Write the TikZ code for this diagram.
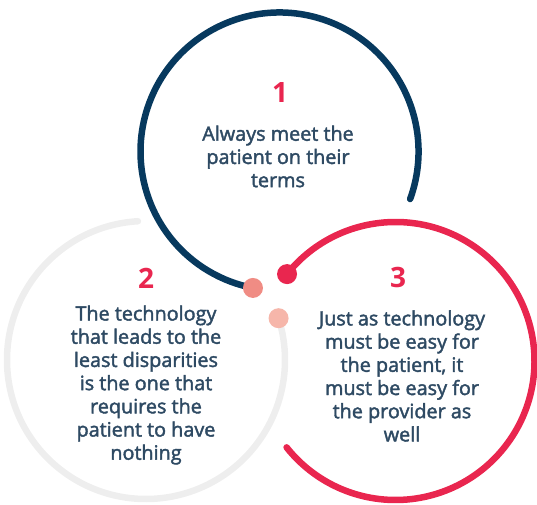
\documentclass[tikz,border=0pt]{standalone}
\usepackage{fontspec}
\setmainfont{Open Sans}
\newfontfamily\semibold{Open Sans}[FakeBold=2]
\usepackage{tikz}
\usetikzlibrary{positioning}
\definecolor{ringnavy}{RGB}{7,57,94}
\definecolor{ringred}{RGB}{233,38,79}
\definecolor{ringgray}{RGB}{238,238,238}
\definecolor{dotsalmon}{RGB}{240,140,132}
\definecolor{dotpink}{RGB}{246,182,170}
\definecolor{bodytext}{RGB}{46,74,99}
\tikzset{
  ring/.style={line width=6.5pt, line cap=round, draw=#1},
  enddot/.style={circle, inner sep=0pt, minimum size=20pt, fill=#1},
  stepnum/.style={font=\fontsize{28}{30}\selectfont\bfseries, text=ringred},
  steptext/.style={font=\semibold\fontsize{19.8}{23.2}\selectfont, text=bodytext,
                   align=center},
}

\begin{document}
\begin{tikzpicture}[x=1pt,y=1pt]
  \useasboundingbox (0,0) rectangle (537,504);
  \def\rad{139}

  % ring centres
  \coordinate (c1) at (279.5,352.5);
  \coordinate (c2) at (146,144);
  \coordinate (c3) at (395.5,143);

  % the three open rings
  \draw[ring=ringnavy] ([shift={(-20:\rad)}]c1) arc[start angle=-20, end angle=259, radius=\rad];
  \draw[ring=ringgray] ([shift={(93.3:\rad)}]c2) arc[start angle=93.3, end angle=377.5, radius=\rad];
  \draw[ring=ringred]  ([shift={(141.3:\rad)}]c3) arc[start angle=141.3, end angle=-141.6, radius=\rad];

  % dots on the ring ends
  \node[enddot=dotsalmon] (d1) at ([shift={(259:\rad)}]c1) {};
  \node[enddot=dotpink]   (d2) at ([shift={(17.5:\rad)}]c2) {};
  \node[enddot=ringred]   (d3) at ([shift={(141.3:\rad)}]c3) {};

  % step 1
  \node[stepnum] (n1) at (280,411) {1};
  \node[steptext] (t1) at (278,347.5) {Always meet the\\patient on their\\terms};

  % step 2
  \node[stepnum] (n2) at (146,226) {2};
  \node[steptext] (t2) at (146,119) {The technology\\that leads to the\\least disparities\\is the one that\\requires the\\patient to have\\nothing};

  % step 3
  \node[stepnum] (n3) at (398,227) {3};
  \node[steptext] (t3) at (402,128) {Just as technology\\must be easy for\\the patient, it\\must be easy for\\the provider as\\well};
\end{tikzpicture}
\end{document}
